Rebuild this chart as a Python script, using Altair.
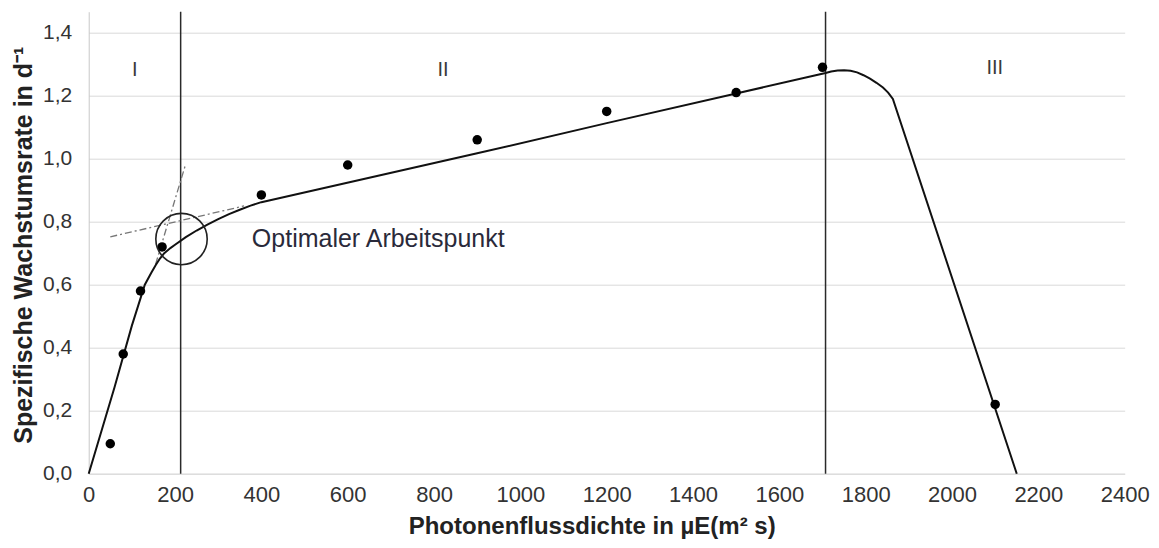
import altair as alt
import pandas as pd

# measured data points
pts_x = [50, 80, 120, 170, 400, 600, 900, 1200, 1500, 1700, 2100]
pts_y = [0.095, 0.38, 0.58, 0.72, 0.885, 0.98, 1.06, 1.15, 1.21, 1.29, 0.22]

# fitted curve vertices
curve_x = [0, 60, 100, 130, 145, 155, 165, 175, 190, 200, 225, 250, 275, 300, 325, 350,
           375, 400, 900, 1200, 1500, 1707, 1720, 1735, 1750, 1765, 1780, 1795, 1810,
           1825, 1840, 1852, 1863, 2150]
curve_y = [0.0, 0.275, 0.47, 0.6, 0.638, 0.662, 0.683, 0.70, 0.717, 0.727, 0.751, 0.772,
           0.791, 0.808, 0.824, 0.838, 0.851, 0.862, 1.017, 1.113, 1.207, 1.272, 1.277,
           1.280, 1.281, 1.279, 1.274, 1.265, 1.254, 1.241, 1.226, 1.21, 1.19, 0.0]

# phase boundaries
vlines = [213, 1707]

# tangent (dash-dot) helper lines
tan_id = ["steil", "steil", "flach", "flach"]
tan_x = [155, 224, 50, 360]
tan_y = [0.665, 0.98, 0.752, 0.85]

# circle around optimal working point
circ_x = [215]
circ_y = [0.745]

# region labels
reg_text = ["I", "II", "III"]
reg_x = [107, 821, 2099]
reg_y = [1.283, 1.283, 1.288]

ann_text = ["Optimaler Arbeitspunkt"]
ann_x = [378]
ann_y = [0.72]

FONT = "Liberation Sans"
GRID = "#d9d9d9"
TXT = "#333333"

xscale = alt.Scale(domain=[0, 2400], nice=False, zero=False)
yscale = alt.Scale(domain=[0, 1.4667], nice=False, zero=False)

xaxis = alt.Axis(
    values=list(range(0, 2401, 200)), format="d", grid=False, ticks=False, tickSize=0,
    domain=True, domainColor=GRID, labelFontSize=22, labelFont=FONT, labelColor=TXT,
    labelPadding=11, labelFlush=False,
    title="Photonenflussdichte in µE(m² s)", titleFont=FONT, titleFontSize=24,
    titleFontWeight="bold", titleColor="#222222", titleBaseline="alphabetic",
    titleX=503, titleY=59.5, titleAnchor="start", titleAlign="center",
)
yaxis = alt.Axis(
    values=[0, 0.2, 0.4, 0.6, 0.8, 1.0, 1.2, 1.4],
    labelExpr="replace(format(datum.value, '.1f'), '.', ',')",
    grid=True, gridColor=GRID, gridWidth=1, ticks=False, tickSize=0,
    domain=True, domainColor="#c8c8c8", labelFontSize=21, labelFont=FONT,
    labelColor=TXT, labelPadding=17,
    title="Spezifische Wachstumsrate in d⁻¹", titleFont=FONT, titleFontSize=25,
    titleFontWeight="bold", titleColor="#222222", titleBaseline="alphabetic",
    titleAngle=270, titleX=-57.2, titleY=233, titleAlign="center", titleAnchor="start",
)

X = alt.X("x:Q", scale=xscale, axis=xaxis)
Y = alt.Y("y:Q", scale=yscale, axis=yaxis)

curve_df = pd.DataFrame({"x": curve_x, "y": curve_y})
pts_df = pd.DataFrame({"x": pts_x, "y": pts_y})
vl_df = pd.DataFrame({"x": vlines})
tan_df = pd.DataFrame({"id": tan_id, "x": tan_x, "y": tan_y})
circ_df = pd.DataFrame({"x": circ_x, "y": circ_y})
reg_df = pd.DataFrame({"t": reg_text, "x": reg_x, "y": reg_y})
ann_df = pd.DataFrame({"t": ann_text, "x": ann_x, "y": ann_y})

curve = alt.Chart(curve_df).mark_line(color="#111111", strokeWidth=2, interpolate="linear").encode(
    x=X, y=Y
)

rules = alt.Chart(vl_df).mark_rule(color="#2a2a2a", strokeWidth=1.5).encode(x=X)

tangents = alt.Chart(tan_df).mark_line(color="#777777", strokeWidth=1.3, strokeDash=[7, 3, 2, 3]).encode(
    x=X, y=Y, detail="id:N"
)

points = alt.Chart(pts_df).mark_circle(color="#000000", size=90, opacity=1).encode(x=X, y=Y)

circle = alt.Chart(circ_df).mark_point(shape="circle", size=2640, filled=False,
                                       stroke="#222222", strokeWidth=1.6, opacity=1).encode(x=X, y=Y)

regions = alt.Chart(reg_df).mark_text(font=FONT, fontSize=20, color="#3a3a3a",
                                      align="center", baseline="middle").encode(
    x=X, y=Y, text="t:N"
)

ann = alt.Chart(ann_df).mark_text(font=FONT, fontSize=25, color="#2a2a3a",
                                  align="left", baseline="alphabetic").encode(
    x=X, y=Y, text="t:N"
)

chart = alt.layer(rules, tangents, curve, points, circle, regions, ann).properties(
    width=1036, height=462,
    autosize=alt.AutoSizeParams(type="none"),
    padding={"left": 80.7, "top": 3.7, "right": 25, "bottom": 66},
).configure(background="white").configure_view(stroke=None)

chart.save("out.html", embed_options={"renderer": "svg", "actions": False})
